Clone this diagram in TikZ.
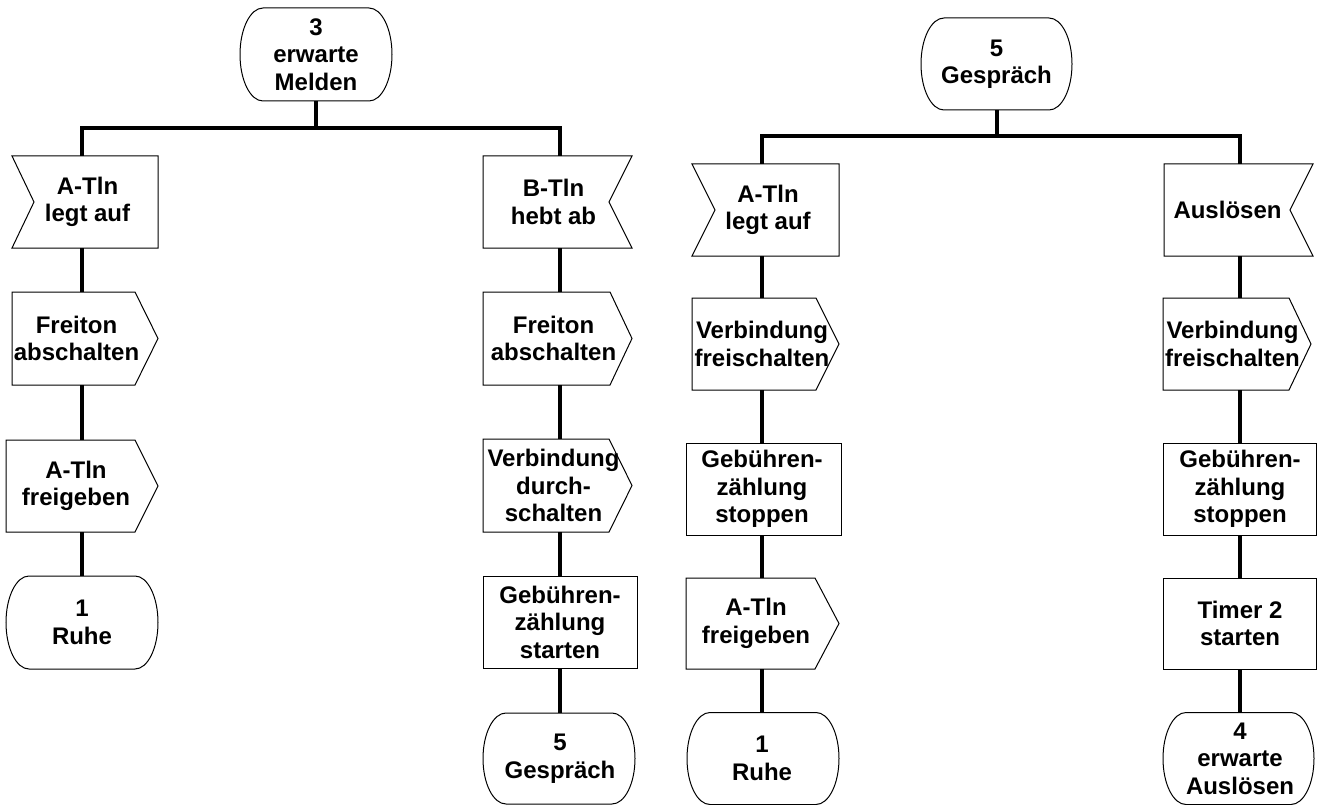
\documentclass[tikz,border=0pt]{standalone}
\usepackage{fontspec}
\setmainfont{Liberation Sans}

\tikzset{
  box/.style={draw=none, rectangle, inner sep=0pt, minimum width=140},
  every label/.style={inner sep=0pt, align=center,
    font=\bfseries\fontsize{24}{27.5}\selectfont},
  txt/.style={label={center:{#1}}},
  txtat/.style 2 args={label={[xshift=#1]center:{#2}}},
  conn/.style={line width=4pt, line join=miter},
  outline/.style={line width=1pt, line join=miter},
}

% SDL symbols, drawn round a node's centre
% output signal: name, left, right, tip depth, half height
\newcommand\outsig[5]{%
  \draw[outline, shift={(#1.center)}] (-#2,#5) -- ({#3-#4},#5) -- (#3,0)
    -- ({#3-#4},-#5) -- (-#2,-#5) -- cycle;}
% input signal, notch on the left: name, left, right, notch depth, half height
\newcommand\insigL[5]{%
  \draw[outline, shift={(#1.center)}] (-#2,#5) -- (#3,#5) -- (#3,-#5)
    -- (-#2,-#5) -- ({-#2+#4},0) -- cycle;}
% input signal, notch on the right
\newcommand\insigR[5]{%
  \draw[outline, shift={(#1.center)}] (-#2,#5) -- (#3,#5) -- ({#3-#4},0)
    -- (#3,-#5) -- (-#2,-#5) -- cycle;}
% task: name, left, right, half height
\newcommand\taskbox[4]{%
  \draw[outline, shift={(#1.center)}] (-#2,-#4) rectangle (#3,#4);}
% state: name, left, right, half height
\newcommand\statebox[4]{%
  \draw[outline, shift={(#1.center)}] ({-#2+23},#4) -- ({#3-23},#4)
    arc[start angle=90, end angle=-90, x radius=23, y radius=#4]
    -- ({-#2+23},-#4)
    arc[start angle=270, end angle=90, x radius=23, y radius=#4] -- cycle;}

\begin{document}
\begin{tikzpicture}[x=1pt, y=1pt]
\useasboundingbox (0,0) rectangle (1317,-805);

% ---- state 3: erwarte Melden ----
\node[box, minimum height=93, txt={3\\erwarte\\Melden}] (s3) at (316,-54.5) {};
\coordinate (j1) at (316,-128);

\node[box, minimum height=92, txtat={5.5}{A-Tln\\legt auf}] (a1) at (82,-202) {};
\node[box, minimum height=93, txtat={-5.5}{Freiton\\abschalten}] (a2) at (82,-338.5) {};
\node[box, minimum height=92, txtat={-6}{A-Tln\\freigeben}] (a3) at (82,-486) {};
\node[box, minimum height=93, txt={1\\Ruhe}] (a4) at (82,-622.5) {};

\node[box, minimum height=92, txtat={-6.5}{B-Tln\\hebt ab}] (b1) at (560,-202) {};
\node[box, minimum height=93, txtat={-6.5}{Freiton\\abschalten}] (b2) at (560,-338.5) {};
\node[box, minimum height=93, txtat={-6.5}{Verbindung\\durch-\\schalten}] (b3) at (560,-485.5) {};
\node[box, minimum height=92, txt={Gebühren-\\zählung\\starten}] (b4) at (560,-622) {};
\node[box, minimum height=91, txt={5\\Gespräch}] (b5) at (560,-758.5) {};

\statebox{s3}{76}{76}{46.5}
\insigL{a1}{70}{76}{22}{46}
\outsig{a2}{70}{76}{23}{46.5}
\outsig{a3}{76}{76}{23}{46}
\statebox{a4}{76}{76}{46.5}
\insigR{b1}{77}{72}{23}{46}
\outsig{b2}{77}{72}{22}{46.5}
\outsig{b3}{77}{72}{23}{46.5}
\taskbox{b4}{77}{77}{46}
\statebox{b5}{77}{75}{45.5}

\draw[conn] (s3.south) -- (j1);
\draw[conn] (a1.north) |- (j1) -| (b1.north);
\draw[conn] (a1.south) -- (a2.north);
\draw[conn] (a2.south) -- (a3.north);
\draw[conn] (a3.south) -- (a4.north);
\draw[conn] (b1.south) -- (b2.north);
\draw[conn] (b2.south) -- (b3.north);
\draw[conn] (b3.south) -- (b4.north);
\draw[conn] (b4.south) -- (b5.north);

% ---- state 5: Gespräch ----
\node[box, minimum height=92, txt={5\\Gespräch}] (s5) at (996.5,-64) {};
\coordinate (j2) at (996.5,-136);

\node[box, minimum height=92, txtat={6}{A-Tln\\legt auf}] (c1) at (762,-210) {};
\node[box, minimum height=92, txt={Verbindung\\freischalten}] (c2) at (762,-344) {};
\node[box, minimum height=92, txt={Gebühren-\\zählung\\stoppen}] (c3) at (762,-489) {};
\node[box, minimum height=91, txtat={-6}{A-Tln\\freigeben}] (c4) at (762,-623.5) {};
\node[box, minimum height=92, txt={1\\Ruhe}] (c5) at (762,-758.5) {};

\node[box, minimum height=92, txtat={-12.5}{Auslösen}] (d1) at (1240,-210) {};
\node[box, minimum height=92, txtat={-7.5}{Verbindung\\freischalten}] (d2) at (1240,-344) {};
\node[box, minimum height=92, txt={Gebühren-\\zählung\\stoppen}] (d3) at (1240,-489) {};
\node[box, minimum height=91, txt={Timer 2\\starten}] (d4) at (1240,-623.5) {};
\node[box, minimum height=92, txt={4\\erwarte\\Auslösen}] (d5) at (1240,-758.5) {};

\statebox{s5}{75.5}{75.5}{46}
\insigL{c1}{70}{77}{23}{46}
\outsig{c2}{70}{77}{23}{46}
\taskbox{c3}{76}{79}{46}
\outsig{c4}{76}{77}{24}{45.5}
\statebox{c5}{75}{77}{46}
\insigR{d1}{76}{73}{23}{46}
\outsig{d2}{77}{71}{22}{46}
\taskbox{d3}{77}{76}{46}
\taskbox{d4}{77}{76}{45.5}
\statebox{d5}{77}{74}{46}

\draw[conn] (s5.south) -- (j2);
\draw[conn] (c1.north) |- (j2) -| (d1.north);
\draw[conn] (c1.south) -- (c2.north);
\draw[conn] (c2.south) -- (c3.north);
\draw[conn] (c3.south) -- (c4.north);
\draw[conn] (c4.south) -- (c5.north);
\draw[conn] (d1.south) -- (d2.north);
\draw[conn] (d2.south) -- (d3.north);
\draw[conn] (d3.south) -- (d4.north);
\draw[conn] (d4.south) -- (d5.north);
\end{tikzpicture}
\end{document}
